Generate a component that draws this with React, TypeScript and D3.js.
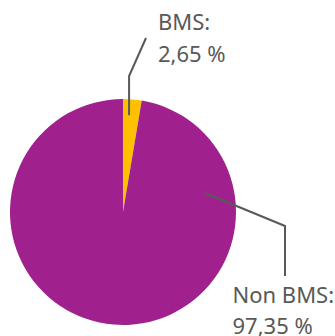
import React from "react";
import * as d3 from "d3";

const categories = ["BMS", "Non BMS"];
const values = [2.65, 97.35];
const valueLabels = ["2,65 %", "97,35 %"];
const colors = ["#FFC000", "#A0218E"];

export default function App() {
  const W = 335, H = 336;
  const cx = 123, cy = 212, r = 113;
  const pie = d3.pie<number>().sort(null).value((d) => d);
  const arcs = pie(values);
  const arcGen = d3.arc<d3.PieArcDatum<number>>().innerRadius(0).outerRadius(r);

  // leader line anchors (relative to the pie centre)
  const polar = (a: number, rad: number) => [cx + Math.sin(a) * rad, cy - Math.cos(a) * rad];
  const a0 = (arcs[0].startAngle + arcs[0].endAngle) / 2;
  const [bx, by] = polar(a0, r * 0.86);
  const bmsLine = [
    [bx - 2, by],
    [bx - 2, 76],
    [146, 38],
  ];
  const nonLine = [
    [cx + 82, cy - 19],
    [285, 226],
    [285, 276],
  ];
  const line = d3.line();
  const textStyle = { fontFamily: "'Noto Sans', sans-serif", fontSize: 22, fill: "#595959" };

  return (
    <svg width={W} height={H} style={{ position: "absolute", left: 0, top: 0 }}>
      <g transform={`translate(${cx},${cy})`}>
        {arcs.map((a, i) => (
          <path key={categories[i]} d={arcGen(a) || ""} fill={colors[i]} />
        ))}
      </g>
      <path d={line(bmsLine as [number, number][]) || ""} fill="none" stroke="#595959" strokeWidth={2} />
      <path d={line(nonLine as [number, number][]) || ""} fill="none" stroke="#595959" strokeWidth={2} />
      <text x={158} y={30} style={textStyle}>{categories[0]}:</text>
      <text x={158} y={61.5} style={textStyle}>{valueLabels[0]}</text>
      <text x={232.5} y={303} style={textStyle}>{categories[1]}:</text>
      <text x={232.5} y={334} style={textStyle}>{valueLabels[1]}</text>
    </svg>
  );
}
